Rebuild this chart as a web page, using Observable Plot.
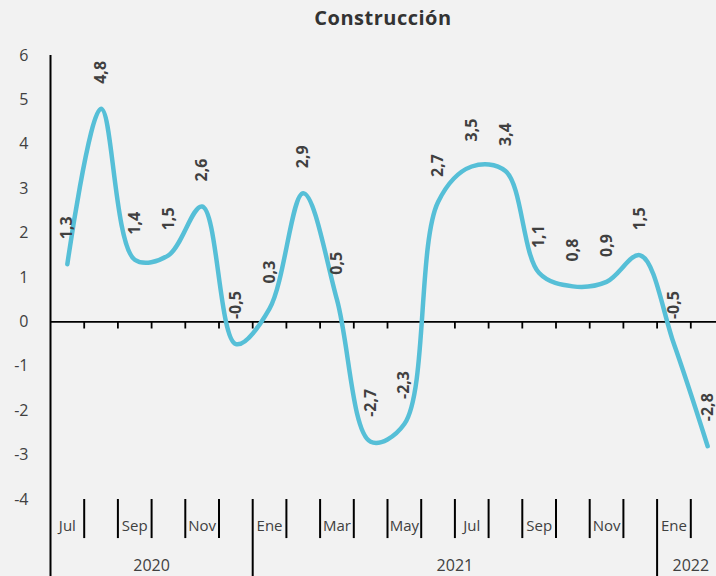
<!DOCTYPE html>
<html><head><meta charset="utf-8">
<script src="https://cdn.jsdelivr.net/npm/d3@7"></script>
<script src="https://cdn.jsdelivr.net/npm/@observablehq/plot@0.6"></script>
<style>
body{margin:0;background:#f2f2f2;width:716px;height:576px;overflow:hidden;font-family:"Open Sans",sans-serif;}
#title{height:40px;line-height:36px;text-align:center;font-weight:bold;font-size:20px;letter-spacing:0.5px;color:#333;padding-left:50px;box-sizing:border-box;}
</style></head><body>
<div id="title">Construcción</div>
<div id="chart"></div>
<script>
const months = ["Jul","Ago","Sep","Oct","Nov","Dic","Ene","Feb","Mar","Abr","May","Jun","Jul","Ago","Sep","Oct","Nov","Dic","Ene","Feb"];
const years = [2020,2020,2020,2020,2020,2020,2021,2021,2021,2021,2021,2021,2021,2021,2021,2021,2021,2021,2022,2022];
const values = [1.3,4.8,1.4,1.5,2.6,-0.5,0.3,2.9,0.5,-2.7,-2.3,2.7,3.5,3.4,1.1,0.8,0.9,1.5,-0.5,-2.8];
const yTicks = [6,5,4,3,2,1,0,-1,-2,-3,-4];

const data = values.map((v, i) => ({x: i + 0.5, v, month: months[i], year: years[i], label: v.toFixed(1).replace(".", ",")}));
const yearList = Array.from(new Set(years));
const yearSpans = yearList.map(y => {
  const s = years.indexOf(y), e = years.lastIndexOf(y) + 1;
  return {year: String(y), start: s, end: e, mid: (s + e) / 2};
});
const yearBounds = yearSpans.map(d => d.start);
const monthBounds = d3.range(1, months.length).filter(b => !yearBounds.includes(b));
const innerBounds = d3.range(1, months.length);

const chart = Plot.plot({
  width: 716, height: 536,
  marginTop: 15, marginBottom: 77, marginLeft: 50, marginRight: 0,
  style: {background: "#f2f2f2", fontFamily: "Open Sans", color: "#404040", overflow: "hidden"},
  x: {domain: [0, months.length], range: [50, 724], axis: null},
  y: {domain: [-4, 6], axis: null},
  marks: [
    Plot.axisY({ticks: yTicks, tickSize: 0, tickPadding: 22, fontSize: 16, tickFormat: d => String(d), label: null, fill: "#404040"}),
    Plot.ruleY([0], {stroke: "black", strokeWidth: 1.8}),
    Plot.ruleX(innerBounds, {x: d => d, y1: 0, y2: -0.16, stroke: "black", strokeWidth: 1.8}),
    Plot.ruleX([0], {x: d => d, y1: 6, y2: -4, stroke: "black", strokeWidth: 2}),
    Plot.ruleX(monthBounds, {x: d => d, y1: -4, y2: -4.88, stroke: "black", strokeWidth: 2}),
    Plot.ruleX(yearBounds, {x: d => d, y1: -4, y2: -5.8, stroke: "black", strokeWidth: 2}),
    Plot.text(data.filter((d, i) => i % 2 === 0), {x: "x", text: "month", frameAnchor: "bottom", dy: 31, fontSize: 15, fill: "#404040"}),
    Plot.text(yearSpans, {x: "mid", text: "year", frameAnchor: "bottom", dy: 71, fontSize: 16, fill: "#404040"}),
    Plot.line(data, {x: "x", y: "v", curve: "catmull-rom", stroke: "#56bfd7", strokeWidth: 4.5, strokeLinecap: "round", strokeLinejoin: "round"}),
    Plot.text(data, {x: "x", y: "v", text: "label", rotate: -90, textAnchor: "start", dy: -25, fontSize: 16, fontWeight: "bold", fill: "#404040"})
  ]
});
document.getElementById("chart").appendChild(chart);
</script>
</body></html>
